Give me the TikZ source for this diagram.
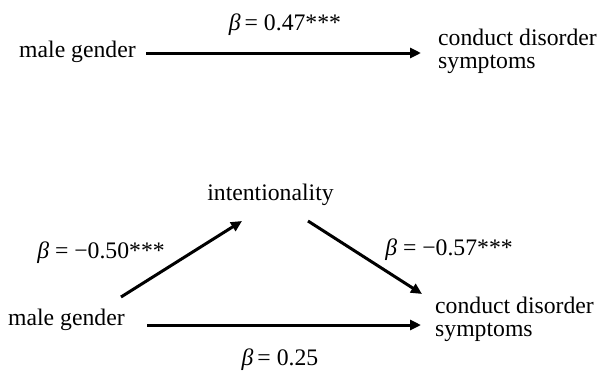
\documentclass[tikz,border=0pt]{standalone}
\usepackage{fontspec}
\setmainfont{Liberation Serif}
\usetikzlibrary{arrows.meta,calc}
\newcommand{\bt}{{\itshape β}}
\begin{document}
\begin{tikzpicture}[x=1pt,y=-1pt,
  every node/.style={font=\fontsize{23.7}{23}\selectfont,inner sep=0pt},
  lbl/.style={anchor=base},
  arr/.style={line width=3pt,-{Triangle[length=11pt,width=10pt]}}]
\useasboundingbox (0,0) rectangle (600,370);
% top model
\node[anchor=base west] (mgA) at (19,57) {male gender};
\node[anchor=base west,align=left] (cdA) at (438,68) {conduct disorder\\symptoms};
\node[lbl] (bA) at (285,30) {\bt\,= 0.47***};
\coordinate (tA0) at (146,53);
\coordinate (tA1) at (421,53);
\draw[arr] (tA0) -- (tA1);
% bottom model
\node[anchor=base] (int) at (270.5,200) {intentionality};
\node[anchor=base west] (mgB) at (8,325) {male gender};
\node[anchor=base west,align=left] (cdB) at (435,336) {conduct disorder\\symptoms};
\node[lbl] (bB) at (101,258) {\bt\ = −0.50***};
\node[lbl] (bC) at (449,255) {\bt\ = −0.57***};
\node[lbl] (bD) at (280,365) {\bt\,= 0.25};
\coordinate (l0) at (121,297);
\coordinate (l1) at (242,221);
\coordinate (r0) at (308,221);
\coordinate (r1) at (422,294);
\coordinate (h0) at (147,325);
\coordinate (h1) at (421,325);
\draw[arr] (l0) -- (l1);
\draw[arr] (r0) -- (r1);
\draw[arr] (h0) -- (h1);
\end{tikzpicture}
\end{document}
